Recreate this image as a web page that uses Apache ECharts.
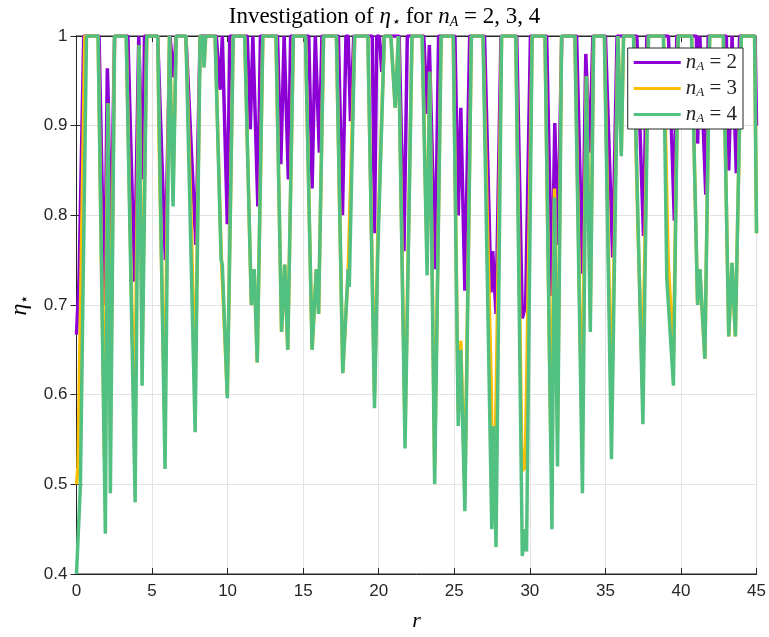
<!DOCTYPE html>
<html>
<head>
<meta charset="utf-8">
<script src="https://cdn.jsdelivr.net/npm/echarts@6/dist/echarts.min.js"></script>
<style>
  html, body { margin: 0; padding: 0; background: #fff; }
  #chart { width: 769px; height: 637px; }
</style>
</head>
<body>
<div id="chart"></div>
<script>
// values, [r, eta]
const nA2 = [
  [0,0.667],[0.17,0.73],[0.48,1],[1.49,1],[1.86,0.70],[2.04,0.964],[2.1,0.93],[2.26,0.74],[2.52,1],
  [3.4,1],[3.84,0.726],[4.12,1],[4.39,0.84],[4.5,1],[5.37,1],[5.88,0.75],[6.18,1],[6.43,0.954],[6.58,1],
  [7.24,1],[7.9,0.767],[8.18,1],[9.25,1],[9.5,0.94],[9.65,1],[9.98,0.79],[10.15,1],
  [11.3,1],[11.5,0.896],[11.67,1],[12.0,0.81],[12.17,1],[13.3,1],[13.52,0.857],[13.74,1],[14.02,0.84],[14.17,1],
  [15.37,1],[15.59,0.83],[15.8,1],[16.07,0.87],[16.24,1],[17.33,1],[17.6,0.80],[17.83,1],[17.98,1],[18.13,0.905],[18.35,1],
  [19.57,1],[19.72,0.78],[19.87,1],[20.04,1],[20.2,0.96],[20.37,1],[21.35,1],[21.67,0.76],[21.89,1],
  [22.98,1],[23.2,0.913],[23.35,0.99],[23.74,0.74],[23.96,1],[25.04,1],[25.26,0.80],[25.43,0.92],[25.7,0.716],[26.02,1],
  [27.0,1],[27.43,0.714],[27.54,0.76],[27.76,0.69],[28.09,1],[29.13,1],[29.5,0.685],[29.72,0.70],[30.04,1],
  [31.11,1],[31.46,0.71],[31.65,0.903],[31.85,0.767],[32.11,1],[33.09,1],[33.48,0.735],[33.7,0.98],[33.96,0.87],[34.17,1],
  [35.0,1],[35.48,0.753],[35.77,1],[37.08,1],[37.52,0.777],[37.74,1],[39.17,1],[39.56,0.794],[39.72,1],
  [41.02,1],[41.1,0.88],[41.25,1],[41.64,0.823],[41.8,1],[43.0,1],[43.16,0.85],[43.38,1],[43.66,0.847],[43.88,1],
  [44.9,1],[45,0.9]
];
const nA3 = [
  [0,0.50],[0.1,0.52],[0.55,1],[1.43,1],[1.85,0.53],[2.08,0.925],[2.24,0.55],[2.52,1],
  [3.29,1],[3.84,0.554],[4.14,0.99],[4.34,0.65],[4.65,1],[5.37,1],[5.48,0.87],[5.83,0.575],[6.15,1],[6.39,0.83],[6.6,1],
  [7.24,1],[7.57,0.806],[7.85,0.60],[8.18,1],[8.35,1],[8.44,0.965],[8.55,1],
  [9.17,1],[9.57,0.76],[9.98,0.60],[10.37,1],[11.13,1],[11.57,0.70],[11.76,0.74],[11.96,0.636],[12.33,1],
  [13.2,1],[13.57,0.67],[13.78,0.745],[13.98,0.65],[14.35,1],[15.15,1],[15.59,0.65],[15.87,0.74],[16.02,0.69],[16.35,1],
  [17.2,1],[17.62,0.624],[17.98,0.74],[18.41,1],[19.28,1],[19.72,0.60],[19.93,0.77],[20.37,1],
  [20.8,1],[21.09,0.92],[21.3,1],[21.4,1],[21.74,0.56],[22.2,1],[22.87,1],[23.2,0.75],[23.37,0.96],[23.7,0.52],[24.13,1],
  [24.93,1],[25.26,0.58],[25.43,0.66],[25.7,0.49],[26.13,1],[26.9,1],[27.44,0.61],[27.52,0.52],[27.7,0.52],[28.13,1],
  [29.07,1],[29.45,0.55],[29.52,0.515],[29.7,0.52],[30.15,1],[31.0,1],[31.4,0.53],[31.63,0.83],[31.83,0.56],[32.1,1],
  [32.98,1],[33.45,0.56],[33.74,0.955],[34.0,0.69],[34.22,1],[34.93,1],[35.4,0.585],[35.83,1],[35.95,1],[36.05,0.87],[36.2,1],
  [36.86,1],[37.15,0.786],[37.45,0.61],[37.85,1],[38.84,1],[39.15,0.75],[39.5,0.64],[39.82,1],
  [40.7,1],[41.1,0.70],[41.25,0.74],[41.58,0.64],[41.9,1],[42.8,1],[43.16,0.665],[43.38,0.747],[43.6,0.665],[43.99,1],
  [44.87,1],[45,0.78]
];
const nA4 = [
  [0,0.40],[0.26,0.50],[0.66,1],[1.43,1],[1.91,0.445],[2.08,0.925],[2.24,0.49],[2.52,1],
  [3.29,1],[3.88,0.48],[4.14,0.99],[4.34,0.61],[4.65,1],[5.37,1],[5.86,0.517],[6.15,1],[6.39,0.81],[6.6,1],
  [7.24,1],[7.85,0.558],[8.18,1],[8.35,1],[8.44,0.965],[8.55,1],
  [9.17,1],[9.57,0.75],[9.65,0.745],[9.98,0.596],[10.37,1],[11.13,1],[11.57,0.70],[11.76,0.74],[11.96,0.636],[12.33,1],
  [13.2,1],[13.57,0.67],[13.78,0.745],[13.98,0.65],[14.35,1],[15.15,1],[15.59,0.65],[15.87,0.74],[16.02,0.69],[16.35,1],
  [17.2,1],[17.62,0.624],[17.98,0.74],[18.05,0.72],[18.41,1],[19.28,1],[19.72,0.585],[19.93,0.753],[20.37,1],
  [20.8,1],[21.09,0.92],[21.3,1],[21.4,1],[21.74,0.54],[22.2,1],[22.87,1],[23.2,0.733],[23.37,0.96],[23.7,0.50],[24.13,1],
  [24.93,1],[25.26,0.565],[25.43,0.65],[25.7,0.47],[26.13,1],[26.9,1],[27.48,0.45],[27.6,0.565],[27.76,0.43],[28.13,1],
  [29.07,1],[29.5,0.42],[29.65,0.45],[29.78,0.425],[30.15,1],[31.0,1],[31.46,0.45],[31.63,0.82],[31.83,0.52],[32.1,1],
  [32.98,1],[33.48,0.49],[33.74,0.955],[34.0,0.67],[34.22,1],[34.93,1],[35.4,0.528],[35.83,1],[35.95,1],[36.05,0.866],[36.2,1],
  [36.86,1],[37.48,0.567],[37.85,1],[38.84,1],[39.06,0.73],[39.5,0.61],[39.82,1],
  [40.7,1],[41.1,0.70],[41.25,0.74],[41.58,0.64],[41.9,1],[42.8,1],[43.16,0.665],[43.38,0.747],[43.6,0.665],[43.99,1],
  [44.87,1],[45,0.78]
];
const seriesNames = ['n_A = 2', 'n_A = 3', 'n_A = 4'];
const xTicks = [0, 45, 5];
const yTicks = [0.4, 1, 0.1];

const axisCol = '#262626';
const serif = '"Liberation Serif", "DejaVu Serif", serif';
const sans = '"Liberation Sans", Arial, sans-serif';

let chart = echarts.init(document.getElementById('chart'));
chart.setOption({
  animation: false,
  color: ['#8c00d6', '#ffbf00', '#52c081'],
  title: {
    text: '{r|Investigation of }{i|η}{s|⋆}{r| for }{i|n}{s|A}{r| = 2, 3, 4}',
    left: 'center',
    top: 0,
    textStyle: {
      fontWeight: 'normal',
      rich: {
        r: { fontFamily: serif, fontSize: 23, fontWeight: 'normal', color: '#000' },
        i: { fontFamily: serif, fontSize: 23, fontStyle: 'italic', fontWeight: 'normal', color: '#000' },
        s: { fontFamily: serif, fontSize: 14, fontStyle: 'italic', fontWeight: 'normal', color: '#000', verticalAlign: 'bottom', padding: [10, 0, 0, 0] }
      }
    }
  },
  grid: { left: 73, right: 12, top: 36, bottom: 62, show: true, borderColor: axisCol, borderWidth: 1 },
  legend: {
    right: 26,
    top: 48,
    z: 20,
    orient: 'vertical',
    itemWidth: 47,
    itemHeight: 3,
    itemGap: 5,
    icon: 'rect',
    backgroundColor: '#fff',
    borderColor: axisCol,
    borderWidth: 1,
    borderRadius: 0,
    padding: [4, 6, 4, 6],
    formatter: function (name) {
      return '{i|n}{s|A}{r|' + name.slice(3) + '}';
    },
    textStyle: {
      rich: {
        r: { fontFamily: serif, fontSize: 21, color: '#262626' },
        i: { fontFamily: serif, fontSize: 21, fontStyle: 'italic', color: '#262626' },
        s: { fontFamily: serif, fontSize: 13, fontStyle: 'italic', color: '#262626', verticalAlign: 'bottom', padding: [8, 0, 0, 0] }
      }
    },
    data: seriesNames
  },
  xAxis: [{
    type: 'value', min: xTicks[0], max: xTicks[1], interval: xTicks[2],
    name: 'r', nameLocation: 'middle', nameGap: 36,
    nameTextStyle: { fontFamily: serif, fontStyle: 'italic', fontSize: 22, color: '#000' },
    axisLine: { lineStyle: { color: axisCol } },
    axisTick: { inside: true, length: 6, lineStyle: { color: axisCol } },
    axisLabel: { fontFamily: sans, fontSize: 17, color: axisCol, margin: 9 },
    splitLine: { lineStyle: { color: '#e3e3e3' } }
  }, {
    type: 'value', position: 'top', min: xTicks[0], max: xTicks[1], interval: xTicks[2],
    axisLine: { lineStyle: { color: axisCol } },
    axisTick: { inside: true, length: 6, lineStyle: { color: axisCol } },
    axisLabel: { show: false }, splitLine: { show: false }
  }],
  yAxis: [{
    type: 'value', min: yTicks[0], max: yTicks[1], interval: yTicks[2],
    name: '{i|η}{s|⋆}', nameLocation: 'middle', nameGap: 44, nameRotate: 90,
    nameTextStyle: {
      rich: {
        i: { fontFamily: serif, fontStyle: 'italic', fontSize: 24, color: '#000' },
        s: { fontFamily: serif, fontSize: 15, color: '#000', verticalAlign: 'bottom', padding: [10, 0, 0, 0] }
      }
    },
    axisLine: { show: true, lineStyle: { color: axisCol } },
    axisTick: { show: true, inside: true, length: 6, lineStyle: { color: axisCol } },
    axisLabel: {
      fontFamily: sans, fontSize: 17, color: axisCol, margin: 9,
      formatter: function (v) { return Math.abs(v - 1) < 1e-9 ? '1' : v.toFixed(1); }
    },
    splitLine: { lineStyle: { color: '#e3e3e3' } }
  }, {
    type: 'value', position: 'right', min: yTicks[0], max: yTicks[1], interval: yTicks[2],
    axisLine: { show: true, lineStyle: { color: axisCol } },
    axisTick: { show: true, inside: true, length: 6, lineStyle: { color: axisCol } },
    axisLabel: { show: false }, splitLine: { show: false }
  }],
  series: [nA2, nA3, nA4].map(function (d, k) {
    return {
      name: seriesNames[k], type: 'line', data: d, showSymbol: false,
      lineStyle: { width: 3.5 }, z: 2 + k
    };
  })
});
</script>
</body>
</html>
